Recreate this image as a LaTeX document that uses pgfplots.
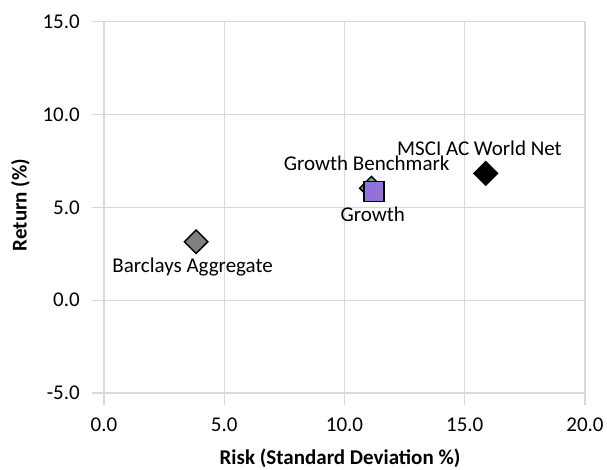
\documentclass[border=0pt]{standalone}
\usepackage{pgfplots}
\pgfplotsset{compat=1.18}
\usepackage{fontspec}
\setmainfont{Carlito}

\definecolor{gridgray}{HTML}{D9D9D9}
\definecolor{aggrgray}{HTML}{808080}
\definecolor{benchgreen}{HTML}{5CB87A}
\definecolor{growthpurple}{HTML}{9370DB}

\newcommand{\chartfont}{\fontsize{21}{25}\selectfont}

\begin{document}
\begin{tikzpicture}
\begin{axis}[
    name=ax,
    scale only axis,
    width=481pt, height=371.3pt,
    xmin=0, xmax=20,
    ymin=-5, ymax=15,
    xtick={0,5,10,15,20},
    xticklabels={0.0,5.0,10.0,15.0,20.0},
    ytick={-5,0,5,10,15},
    yticklabels={-5.0,0.0,5.0,10.0,15.0},
    tick pos=left,
    tick align=outside,
    major tick length=12pt,
    tick style={draw=gridgray, line width=1.3pt},
    grid=major,
    grid style={draw=gridgray, line width=1.3pt},
    axis line style={draw=gridgray, line width=1.3pt},
    tick label style={font=\chartfont, inner sep=0pt},
    xticklabel style={anchor=north, yshift=-13pt},
    yticklabel style={anchor=east, xshift=-12pt},
    xlabel={\textbf{Risk (Standard Deviation \%)}},
    ylabel={\textbf{Return (\%)}},
    xlabel style={font=\chartfont, at={(axis description cs:0.5,0)}, anchor=base, yshift=-71pt, xshift=-4.5pt},
    ylabel style={font=\chartfont, at={(axis description cs:-0.1736,0.5065)}, anchor=center},
    clip=false,
    every node near coord/.append style={font=\chartfont, text=black, anchor=base, inner sep=0pt},
]
% Barclays Aggregate
\addplot[only marks, mark=square*, mark size=8.3pt,
    mark options={rotate=45, fill=aggrgray, draw=black, line width=1.5pt},
    nodes near coords={Barclays Aggregate},
    every node near coord/.append style={xshift=-3.5pt, yshift=-31pt}]
    coordinates {(3.83,3.15)};
% MSCI AC World Net
\addplot[only marks, mark=square*, mark size=8.3pt,
    mark options={rotate=45, fill=black, draw=black, line width=1.5pt},
    nodes near coords={MSCI AC World Net},
    every node near coord/.append style={xshift=-6.2pt, yshift=18pt}]
    coordinates {(15.87,6.83)};
% Growth Benchmark
\addplot[only marks, mark=square*, mark size=8.3pt,
    mark options={rotate=45, fill=benchgreen, draw=black, line width=1.5pt},
    nodes near coords={Growth Benchmark},
    every node near coord/.append style={xshift=-4.8pt, yshift=17.5pt}]
    coordinates {(11.12,6.03)};
% Growth
\addplot[only marks, mark=square*, mark size=10.1pt,
    mark options={fill=growthpurple, draw=black, line width=1.5pt},
    nodes near coords={Growth},
    every node near coord/.append style={xshift=-1.4pt, yshift=-30.2pt}]
    coordinates {(11.23,5.85)};
\end{axis}
\pgfresetboundingbox
\path[use as bounding box] ([shift={(-104pt,-76pt)}]ax.south west) rectangle ([shift={(22pt,21.7pt)}]ax.north east);
\end{tikzpicture}
\end{document}
